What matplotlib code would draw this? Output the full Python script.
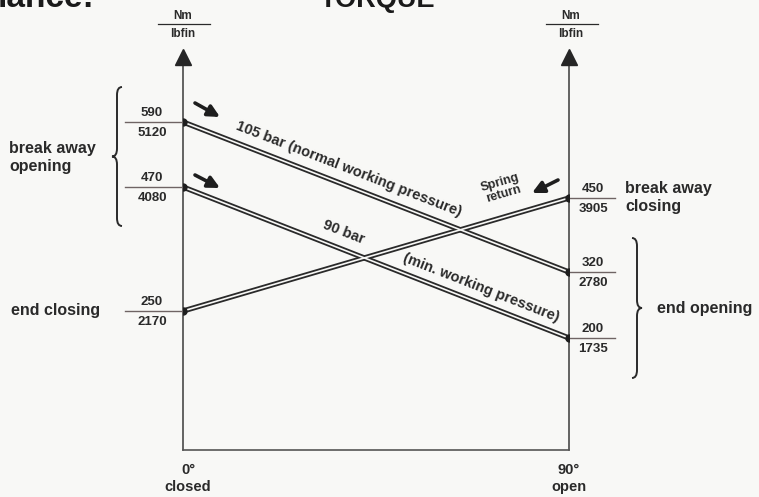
import numpy as np
import matplotlib.pyplot as plt
from matplotlib.path import Path
from matplotlib.patches import PathPatch

# valve travel in degrees: closed -> open
angle = [0, 90]
angle_labels = ['0°\nclosed', '90°\nopen']

# torque values (Nm / lbf·in) at start and end of the stroke
nm_105 = [590, 320]
lbfin_105 = [5120, 2780]
nm_90 = [470, 200]
lbfin_90 = [4080, 1735]
nm_spring = [250, 450]
lbfin_spring = [2170, 3905]

# schematic height of each value on the drawing (not to scale)
level_105 = [328, 178]
level_90 = [263, 112]
level_spring = [139, 252]

W, H = 759, 497
BG = '#f8f8f6'
INK = '#2a2a2a'
FONT = 'Liberation Sans'

fig = plt.figure(figsize=(W / 100, H / 100), dpi=100, facecolor=BG)
# plot frame: x 0..90 deg over px 183..569, y 0..400 over px 450..50
ax = fig.add_axes([183 / W, (H - 450) / H, 386 / W, 400 / H])
ax.set_xlim(0, 90)
ax.set_ylim(0, 400)
ax.set_facecolor(BG)
ax.axis('off')


def P(xp, yp):
    # pixel (from top-left) -> data coords
    return ((xp - 183) / 386 * 90, 450 - yp)


def txt(xp, yp, s, size=11.5, **kw):
    x, y = P(xp, yp)
    kw.setdefault('ha', 'left')
    kw.setdefault('va', 'center')
    ax.text(x, y, s, fontsize=size, fontweight='bold', family=FONT,
            color=INK, clip_on=False, **kw)


# axes with arrow heads
for xa in angle:
    ax.plot([xa, xa], [0, 392], color='#3a3a3a', lw=1.1, clip_on=False)
    ax.plot([xa], [393], marker='^', ms=11, color='#262626', clip_on=False)
ax.plot(angle, [0, 0], color='#555555', lw=1.2, clip_on=False)

# double torque lines
for lv in (level_105, level_90, level_spring):
    ax.plot(angle, lv, color=INK, lw=3.8, solid_capstyle='butt', zorder=3)
    ax.plot(angle, lv, color=BG, lw=1.2, solid_capstyle='butt', zorder=4)
    ax.plot(angle, lv, 'o', ms=5, color='#1e1e1e', zorder=5)


# value labels as fractions Nm / lbfin
def fraction(xa, lv, top, bottom, side):
    if side == 'left':
        x0, x1, xc = P(125, 0)[0], 0, P(152, 0)[0]
    else:
        x0, x1, xc = 90, P(615, 0)[0], P(593, 0)[0]
    ax.plot([x0, x1], [lv, lv], color='#6f6464', lw=1.0, clip_on=False, zorder=2)
    ax.annotate(str(top), (xc, lv), xytext=(0, 9), textcoords='offset pixels',
                ha='center', va='center', fontsize=9.5, fontweight='bold',
                family=FONT, color=INK, annotation_clip=False)
    ax.annotate(str(bottom), (xc, lv), xytext=(0, -11), textcoords='offset pixels',
                ha='center', va='center', fontsize=9.5, fontweight='bold',
                family=FONT, color=INK, annotation_clip=False)


for nm, lb, lv in ((nm_105, lbfin_105, level_105), (nm_90, lbfin_90, level_90),
                   (nm_spring, lbfin_spring, level_spring)):
    fraction(angle[0], lv[0], nm[0], lb[0], 'left')
    fraction(angle[1], lv[1], nm[1], lb[1], 'right')


# labels along the lines
def line_label(lv, t, d, s, size=10.5, linespacing=1.2):
    p0 = ax.transData.transform((angle[0], lv[0]))
    p1 = ax.transData.transform((angle[1], lv[1]))
    v = p1 - p0
    rot = np.degrees(np.arctan2(v[1], v[0]))
    u = v / np.hypot(*v)
    n = np.array([-u[1], u[0]])
    xb = angle[0] + t * (angle[1] - angle[0])
    yb = lv[0] + t * (lv[1] - lv[0])
    ax.annotate(s, (xb, yb), xytext=tuple(n * d), textcoords='offset pixels',
                rotation=rot, rotation_mode='anchor', ha='center', va='center',
                multialignment='center', linespacing=linespacing,
                fontsize=size, fontweight='bold', family=FONT, color=INK,
                annotation_clip=False)


line_label(level_105, 0.415, 16, '105 bar (normal working pressure)')
line_label(level_90, 0.40, 16, '90 bar')
line_label(level_90, 0.758, 14.5, '(min. working pressure)')
line_label(level_spring, 0.847, 28, 'Spring\nreturn', size=9, linespacing=1.0)

# direction arrows
for a, b in (((195, 103), (220, 117)), ((195, 175), (220, 188)),
             ((558, 180), (532, 193))):
    ax.annotate('', xy=P(*b), xytext=P(*a), annotation_clip=False,
                arrowprops=dict(arrowstyle='-|>,head_length=0.7,head_width=0.35',
                                lw=2.6, color='#1e1e1e', shrinkA=0, shrinkB=0))


# curly braces
def brace(xp, y0, y1, direction):
    xm = xp
    w = 5 * direction
    ym = (y0 + y1) / 2
    pts = [(xm + w, y0), (xm, y0), (xm, y0 + 8),
           (xm, ym - 8), (xm, ym), (xm - w, ym),
           (xm, ym), (xm, ym + 8),
           (xm, y1 - 8), (xm, y1), (xm + w, y1)]
    verts = [P(*p) for p in pts]
    codes = [Path.MOVETO, Path.CURVE3, Path.CURVE3, Path.LINETO, Path.CURVE3,
             Path.CURVE3, Path.CURVE3, Path.CURVE3, Path.LINETO, Path.CURVE3,
             Path.CURVE3]
    ax.add_patch(PathPatch(Path(verts, codes), fill=False, lw=1.4,
                           edgecolor=INK, clip_on=False))


brace(117, 87, 226, 1)
brace(637, 238, 378, -1)

# side captions
txt(9, 148, 'break away')
txt(9, 167, 'opening')
txt(11, 311, 'end closing')
txt(625, 188, 'break away')
txt(625, 207, 'closing')
txt(657, 309, 'end opening')

# axis units
for xc, xl0, xl1 in ((183, 158, 210), (571, 546, 598)):
    txt(xc, 16, 'Nm', size=8.5, ha='center')
    txt(xc, 34, 'lbfin', size=8.5, ha='center')
    ax.plot([P(xl0, 0)[0], P(xl1, 0)[0]], [P(0, 24)[1]] * 2, color=INK,
            lw=0.9, clip_on=False)

# degree labels
for xa, lab in zip(angle, angle_labels):
    ax.text(xa + P(188, 0)[0] if xa == 0 else xa, -13, lab, ha='center',
            va='top', fontsize=10.5, fontweight='bold', family=FONT, color=INK,
            linespacing=1.3, clip_on=False)

# heading, cut off by the top edge of the scan
fig.text(-0.003, 1 - 7 / H, 'lance:', fontsize=24, fontweight='bold',
         family=FONT, color='#1a1a1a', va='baseline')
fig.text(320 / W, 1 - 7 / H, 'TORQUE', fontsize=19.5, fontweight='bold',
         family=FONT, color='#1a1a1a', va='baseline')

fig.savefig('out.png', dpi=100, facecolor=BG)
